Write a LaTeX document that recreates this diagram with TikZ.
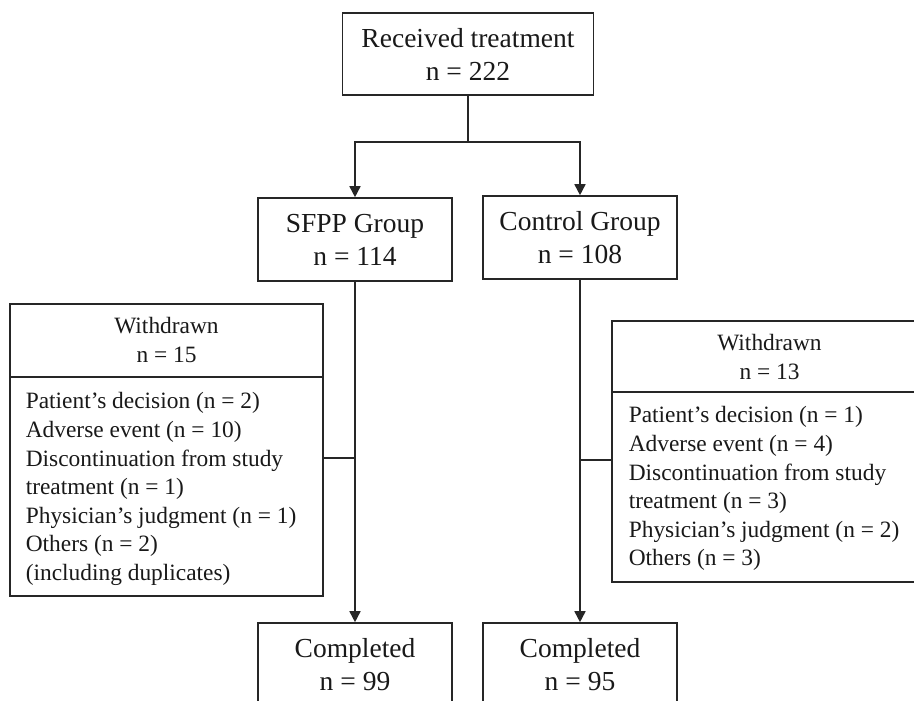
\documentclass[tikz,border=0pt]{standalone}
\usepackage{fontspec}
\setmainfont{Liberation Serif}
\usetikzlibrary{arrows.meta}
\newcommand{\topstrut}{\rule{0pt}{20pt}}
\newcommand{\sq}{\char"0027\relax}
\begin{document}
\begin{tikzpicture}[x=1pt,y=-1pt,
  line width=1.6pt, draw=black!85, text=black!90,
  mainbox/.style={draw, rectangle, align=center, minimum width=194pt, minimum height=83pt, inner sep=0pt,
    font=\fontsize{27.5}{33}\selectfont},
  wdbox/.style={draw, rectangle, inner sep=0pt},
  hdtext/.style={align=center, inner sep=0pt, anchor=north, font=\fontsize{23.4}{29}\selectfont},
  bodytext/.style={align=left, inner sep=0pt, anchor=north west, font=\fontsize{23.4}{28.6}\selectfont},
  arr/.style={-{Triangle[length=11pt,width=11pt]}}]
\useasboundingbox (0,0) rectangle (914,701);
\clip (0,0) rectangle (914,701);
\fill[white] (0,0) rectangle (914,701);

\node[mainbox, minimum width=251pt, minimum height=82pt] (top) at (468,54) {Received treatment\\n = 222};
\node[mainbox] (sfpp) at (355,239.5) {SFPP Group\\n = 114};
\node[mainbox] (ctrl) at (580,237.5) {Control Group\\n = 108};
\node[mainbox] (c1) at (355,664.5) {Completed\\n = 99};
\node[mainbox] (c2) at (580,664.5) {Completed\\n = 95};

\node[wdbox, minimum width=313pt, minimum height=292pt] (wl) at (166.5,450) {};
\draw ([yshift=-74pt]wl.north west) -- ([yshift=-74pt]wl.north east);
\node[hdtext] (wlh) at (166.5,313) {\topstrut Withdrawn\\n = 15};
\node[bodytext] (wlb) at (25,388) {\topstrut Patient\sq s decision (n = 2)\\Adverse event (n = 10)\\Discontinuation from study\\treatment (n = 1)\\Physician’s judgment (n = 1)\\Others (n = 2)\\(including duplicates)};

\node[wdbox, minimum width=315pt, minimum height=261pt] (wr) at (769.5,451.5) {};
\draw ([yshift=-72pt]wr.north west) -- ([yshift=-72pt]wr.north east);
\node[hdtext] (wrh) at (769.5,330) {\topstrut Withdrawn\\n = 13};
\node[bodytext] (wrb) at (628,402) {\topstrut Patient\sq s decision (n = 1)\\Adverse event (n = 4)\\Discontinuation from study\\treatment (n = 3)\\Physician’s judgment (n = 2)\\Others (n = 3)};

\coordinate (split) at ([yshift=-46pt]top.south);
\draw (top.south) -- (split);
\draw[arr] (split) -| (sfpp.north);
\draw[arr] (split) -| (ctrl.north);
\draw[arr] (sfpp.south) -- (c1.north);
\draw[arr] (ctrl.south) -- (c2.north);
\coordinate (wlc) at ([yshift=-8pt]wl.east);
\draw (wlc) -- (wlc -| sfpp.south);
\coordinate (wrc) at ([yshift=-8.5pt]wr.west);
\draw (wrc) -- (wrc -| ctrl.south);
\end{tikzpicture}
\end{document}
